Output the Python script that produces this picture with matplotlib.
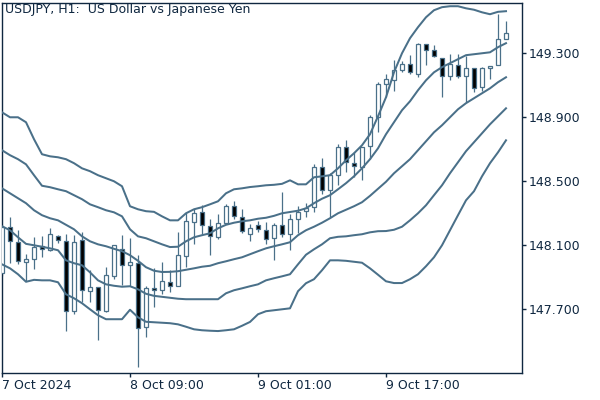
import numpy as np                  # obliczenia
import matplotlib
matplotlib.use("Agg")
import matplotlib.pyplot as plt     # wykresy


# Swiece godzinowe USDJPY (open, high, low, close)
opens = [147.925, 148.214, 148.121, 147.998, 148.017, 148.094, 148.073, 148.158, 148.127, 147.689,
         148.131, 147.814, 147.839, 147.689, 147.908, 148.077, 147.975, 147.991, 147.589, 147.836,
         147.823, 147.873, 147.848, 148.035, 148.246, 148.308, 148.223, 148.152, 148.242, 148.346,
         148.277, 148.173, 148.225, 148.198, 148.148, 148.229, 148.173, 148.267, 148.313, 148.339,
         148.589, 148.444, 148.542, 148.715, 148.615, 148.590, 148.719, 148.902, 149.111, 149.136,
         149.198, 149.236, 149.169, 149.356, 149.319, 149.273, 149.156, 149.229, 149.156, 149.210,
         149.089, 149.210, 149.225, 149.392]
highs = [148.225, 148.277, 148.194, 148.048, 148.152, 148.156, 148.208, 148.163, 148.173, 148.163,
         148.183, 147.944, 147.839, 147.964, 148.104, 148.163, 148.144, 148.038, 147.844, 147.956,
         147.994, 147.944, 148.183, 148.300, 148.329, 148.350, 148.267, 148.294, 148.361, 148.375,
         148.325, 148.236, 148.250, 148.246, 148.239, 148.430, 148.298, 148.346, 148.367, 148.610,
         148.648, 148.554, 148.731, 148.756, 148.683, 148.715, 148.913, 149.121, 149.173, 149.261,
         149.252, 149.288, 149.364, 149.360, 149.354, 149.273, 149.298, 149.294, 149.281, 149.210,
         149.214, 149.223, 149.544, 149.500]
lows = [147.906, 147.990, 147.986, 147.877, 147.954, 148.027, 148.063, 148.113, 147.567, 147.673,
        147.746, 147.746, 147.511, 147.683, 147.892, 147.850, 147.844, 147.339, 147.527, 147.714,
        147.794, 147.808, 147.848, 147.963, 148.111, 148.173, 148.038, 148.142, 148.236, 148.267,
        148.177, 148.127, 148.183, 148.111, 148.006, 148.152, 148.073, 148.177, 148.277, 148.308,
        148.419, 148.277, 148.479, 148.558, 148.527, 148.506, 148.642, 148.808, 149.027, 149.065,
        149.183, 149.169, 149.152, 149.225, 149.277, 149.027, 149.136, 149.148, 148.996, 149.058,
        149.065, 149.140, 149.225, 149.392]
closes = [148.213, 148.125, 148.000, 148.017, 148.089, 148.077, 148.173, 148.131, 147.692, 148.121,
          147.819, 147.839, 147.694, 147.913, 148.100, 147.975, 147.994, 147.586, 147.836, 147.823,
          147.875, 147.848, 148.038, 148.250, 148.304, 148.225, 148.161, 148.242, 148.346, 148.281,
          148.188, 148.211, 148.200, 148.142, 148.225, 148.173, 148.267, 148.308, 148.333, 148.589,
          148.444, 148.538, 148.715, 148.619, 148.598, 148.715, 148.902, 149.111, 149.142, 149.194,
          149.236, 149.180, 149.356, 149.319, 149.286, 149.156, 149.231, 149.161, 149.210, 149.086,
          149.210, 149.223, 149.392, 149.429]

# Wstegi Bollingera (od gory)
band_up2 = [148.931, 148.900, 148.900, 148.869, 148.763, 148.669, 148.656, 148.650, 148.638, 148.613,
            148.581, 148.563, 148.538, 148.519, 148.500, 148.469, 148.344, 148.325, 148.313, 148.309,
            148.281, 148.256, 148.256, 148.300, 148.325, 148.338, 148.356, 148.375, 148.425, 148.450,
            148.456, 148.464, 148.469, 148.475, 148.478, 148.484, 148.506, 148.481, 148.481, 148.525,
            148.531, 148.538, 148.581, 148.631, 148.675, 148.725, 148.794, 148.906, 149.025, 149.181,
            149.300, 149.394, 149.463, 149.525, 149.569, 149.588, 149.594, 149.594, 149.581, 149.572,
            149.556, 149.544, 149.559, 149.563]
band_up1 = [148.694, 148.663, 148.638, 148.606, 148.538, 148.472, 148.463, 148.450, 148.438, 148.413,
            148.388, 148.356, 148.338, 148.319, 148.306, 148.281, 148.200, 148.156, 148.144, 148.125,
            148.106, 148.089, 148.091, 148.125, 148.150, 148.163, 148.175, 148.206, 148.228, 148.241,
            148.250, 148.256, 148.266, 148.272, 148.284, 148.300, 148.308, 148.316, 148.331, 148.363,
            148.391, 148.413, 148.450, 148.488, 148.531, 148.581, 148.638, 148.706, 148.794, 148.869,
            148.944, 149.000, 149.069, 149.131, 149.181, 149.213, 149.238, 149.263, 149.288, 149.294,
            149.300, 149.306, 149.338, 149.363]
band_mid = [148.456, 148.425, 148.394, 148.363, 148.319, 148.288, 148.269, 148.256, 148.228, 148.200,
            148.156, 148.125, 148.106, 148.094, 148.078, 148.063, 148.038, 148.003, 147.963, 147.941,
            147.933, 147.934, 147.938, 147.947, 147.956, 147.966, 147.972, 147.988, 148.000, 148.013,
            148.025, 148.044, 148.063, 148.081, 148.094, 148.106, 148.119, 148.163, 148.194, 148.216,
            148.241, 148.269, 148.300, 148.322, 148.344, 148.369, 148.409, 148.453, 148.497, 148.550,
            148.594, 148.638, 148.694, 148.750, 148.806, 148.850, 148.900, 148.950, 148.988, 149.019,
            149.050, 149.081, 149.119, 149.150]
band_dn1 = [148.219, 148.194, 148.150, 148.109, 148.100, 148.091, 148.081, 148.069, 148.006, 147.988,
            147.975, 147.931, 147.881, 147.856, 147.847, 147.841, 147.844, 147.825, 147.797, 147.784,
            147.778, 147.772, 147.766, 147.763, 147.763, 147.763, 147.763, 147.763, 147.800, 147.819,
            147.831, 147.844, 147.856, 147.881, 147.894, 147.906, 147.919, 147.981, 148.041, 148.075,
            148.106, 148.144, 148.153, 148.156, 148.163, 148.169, 148.181, 148.188, 148.189, 148.197,
            148.216, 148.256, 148.300, 148.350, 148.413, 148.475, 148.550, 148.619, 148.688, 148.744,
            148.800, 148.856, 148.906, 148.956]
band_dn2 = [147.981, 147.956, 147.919, 147.872, 147.884, 147.881, 147.881, 147.869, 147.794, 147.769,
            147.738, 147.700, 147.663, 147.638, 147.638, 147.638, 147.697, 147.650, 147.622, 147.619,
            147.616, 147.613, 147.606, 147.591, 147.575, 147.569, 147.566, 147.564, 147.569, 147.575,
            147.597, 147.621, 147.669, 147.688, 147.694, 147.700, 147.706, 147.813, 147.863, 147.888,
            147.944, 148.006, 148.006, 148.003, 147.997, 147.991, 147.956, 147.916, 147.875, 147.864,
            147.864, 147.888, 147.919, 147.969, 148.025, 148.100, 148.194, 148.288, 148.381, 148.438,
            148.531, 148.613, 148.681, 148.756]

# Opisy osi
time_ticks = [0, 16, 32, 48]
time_labels = ['7 Oct 2024', '8 Oct 09:00', '9 Oct 01:00', '9 Oct 17:00']
price_ticks = [147.7, 148.1, 148.5, 148.9, 149.3]
title = 'USDJPY, H1:  US Dollar vs Japanese Yen'

LINE = '#4a7089'
FRAME = '#0f2740'


# Rysowanie swiec
def candles(ax):
    o = np.array(opens)
    c = np.array(closes)
    x = np.arange(len(o))
    ax.vlines(x, lows, highs, color=LINE, lw=0.9, zorder=2)
    up = c >= o
    bottom = np.minimum(o, c)
    height = np.maximum(np.abs(c - o), 0.004)
    ax.bar(x, height, bottom=bottom, width=0.55,
           color=np.where(up, 'white', 'black'), edgecolor=LINE, lw=0.9, zorder=3)


def main():
    fig = plt.figure(figsize=(6, 4), dpi=100)
    ax = fig.add_axes([2/600, 1-372.5/400, 520/600, 369.8/400])

    candles(ax)
    x = np.arange(len(band_mid))
    for band in [band_up2, band_up1, band_mid, band_dn1, band_dn2]:
        ax.plot(x, band, color=LINE, lw=1.45, zorder=4, solid_joinstyle='round')

    ax.set_xlim(0, 65)
    ax.set_ylim(147.305, 149.616)

    # Os cen po prawej
    ax.yaxis.tick_right()
    ax.set_yticks(price_ticks)
    ax.set_yticklabels(['%.3f' % p for p in price_ticks])
    ax.set_xticks(time_ticks)
    ax.set_xticklabels(time_labels)
    for lbl in ax.get_xticklabels():
        lbl.set_ha('left')
    ax.tick_params(axis='both', colors=FRAME, labelsize=9, length=3, width=1, pad=2)
    ax.tick_params(axis='y', pad=1.5)
    for s in ax.spines.values():
        s.set_color(FRAME)
        s.set_linewidth(1)

    fig.text(5/600, 1-3/400, title, color=FRAME, fontsize=9, va='top', ha='left')

    plt.savefig('out.png', dpi=100)


if __name__ == "__main__":
    main()
